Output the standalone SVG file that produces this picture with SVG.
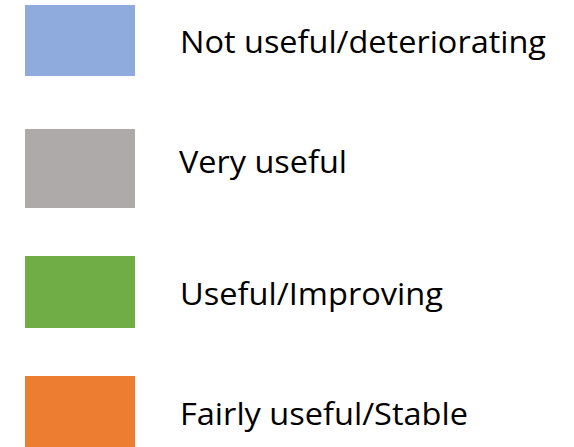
<svg xmlns="http://www.w3.org/2000/svg" width="574" height="447" viewBox="0 0 574 447">
<style>
.lbl{font-family:"Open Sans","Liberation Sans",sans-serif;font-size:31px;fill:#000}
</style>
<rect width="574" height="447" fill="#fff"/>
<g id="item-not-useful">
<rect x="25" y="5" width="110" height="71" fill="#8faadc"/>
<text class="lbl" x="180" y="53" textLength="366" lengthAdjust="spacingAndGlyphs">Not useful/deteriorating</text>
</g>
<g id="item-very-useful">
<rect x="25" y="129" width="110" height="79" fill="#aeaaaa"/>
<text class="lbl" x="179" y="173" textLength="168" lengthAdjust="spacingAndGlyphs">Very useful</text>
</g>
<g id="item-useful">
<rect x="25" y="256" width="110" height="72" fill="#70ad47"/>
<text class="lbl" x="180" y="305" textLength="263" lengthAdjust="spacingAndGlyphs">Useful/Improving</text>
</g>
<g id="item-fairly-useful">
<rect x="25" y="376" width="110" height="71" fill="#ed7d31"/>
<text class="lbl" x="180" y="425" textLength="288" lengthAdjust="spacingAndGlyphs">Fairly useful/Stable</text>
</g>
<g id="connectors"/>
</svg>
